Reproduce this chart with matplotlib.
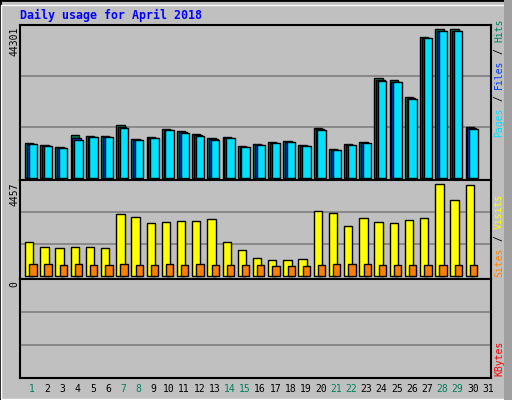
import matplotlib
matplotlib.use("Agg")
import matplotlib.pyplot as plt
from matplotlib.patches import Rectangle

days = list(range(1, 32))
hits = [10050, 9460, 8890, 12360, 12070, 12070, 15260, 11200, 11780, 14100, 13520, 12650, 11490, 11780, 9180,
        9760, 10340, 10630, 9460, 14390, 8310, 9760, 10340, 28870, 28290, 23370, 40740, 43060, 43060, 14680, 0]
files = [9900, 9300, 8750, 11500, 11900, 11900, 14900, 11000, 11600, 13900, 13300, 12450, 11300, 11600, 9000,
         9600, 10150, 10450, 9300, 14100, 8150, 9600, 10150, 28500, 27900, 23100, 40600, 42700, 42700, 14500, 0]
pages = [9800, 9200, 8600, 11000, 11800, 11800, 14600, 10900, 11500, 13800, 13100, 12300, 11100, 11500, 8900,
         9500, 10000, 10300, 9200, 13900, 8000, 9500, 10000, 28200, 27700, 22900, 40600, 42500, 42500, 14300, 0]
visits = [1594, 1365, 1319, 1365, 1365, 1319, 2881, 2743, 2467, 2513, 2559, 2559, 2651, 1594, 1227,
          859, 767, 767, 813, 3019, 2927, 2330, 2697, 2513, 2467, 2605, 2697, 4260, 3524, 4214, 0]
sites = [537, 537, 492, 537, 492, 492, 537, 492, 492, 537, 492, 537, 492, 492, 492,
         492, 445, 445, 445, 492, 537, 537, 537, 492, 492, 492, 492, 492, 492, 492, 0]
weekend = {1, 7, 8, 14, 15, 21, 22, 28, 29}
max_hits = 44301
max_visits = 4457

BG = "#c0c0c0"
W, H = 512, 400
fig = plt.figure(figsize=(W / 100, H / 100), dpi=100, facecolor=BG)
mono = "DejaVu Sans Mono"

def ax_px(x0, y0, x1, y1):
    return fig.add_axes([x0 / W, 1 - y1 / H, (x1 - x0) / W, (y1 - y0) / H])

fig.patches.append(Rectangle((0, 0), 1, 1, transform=fig.transFigure, fill=False,
                             edgecolor="black", lw=2))
fig.patches.append(Rectangle((1 / W, 1 / H), 1 - 6 / W, 1 - 6 / H, transform=fig.transFigure,
                             fill=False, edgecolor="white", lw=1))
fig.patches.append(Rectangle((504 / W, 0), 8 / W, 1, transform=fig.transFigure,
                             facecolor="#a0a0a0", edgecolor="none"))

L, R = 20, 491
ax1 = ax_px(L, 25, R, 180)
ax2 = ax_px(L, 180, R, 279)
ax3 = ax_px(L, 279, R, 378)

for ax in (ax1, ax2, ax3):
    ax.set_facecolor(BG)
    ax.set_xlim(0.5, 31.5)
    ax.set_xticks([])
    ax.set_yticks([])
    for s in ax.spines.values():
        s.set_color("black")
        s.set_linewidth(1.5)

def lws(vals):
    return [1 if v > 0 else 0 for v in vals]

ax1.set_ylim(-2 * max_hits / 153, max_hits)
for g in (max_hits / 3, 2 * max_hits / 3):
    ax1.axhline(g, color="#808080", lw=1.2, zorder=0)
w = 0.55
kw = dict(edgecolor="black", align="edge")
xs = [d - 0.17 for d in days]
ax1.bar(xs, hits, w, color="#00805c", zorder=2, linewidth=lws(hits), **kw)
ax1.bar([x + 0.12 for x in xs], files, w, color="#0040ff", zorder=3, linewidth=lws(files), **kw)
ax1.bar([x + 0.24 for x in xs], pages, w, color="#00e0ff", zorder=4, linewidth=lws(pages), **kw)

ax2.set_ylim(-3 * max_visits / 97, max_visits)
for g in (max_visits / 3, 2 * max_visits / 3):
    ax2.axhline(g, color="#808080", lw=1.2, zorder=0)
ax2.bar(xs, visits, 0.55, color="#ffff00", zorder=2, linewidth=lws(visits), **kw)
ax2.bar([x + 0.28 for x in xs], sites, 0.48, color="#ff8000", zorder=3, linewidth=lws(sites), **kw)

ax3.set_ylim(0, 3)
for g in (1, 2):
    ax3.axhline(g, color="#808080", lw=1.2, zorder=0)

fig.text(20 / W, 1 - 15 / H, "Daily usage for April 2018", color="#0000ff", family=mono,
         weight="bold", fontsize=8.4, va="center", ha="left")

for ypx, lab in ((25, "44301"), (180, "4457"), (279, "0")):
    fig.text(14 / W, 1 - (ypx + 2) / H, lab, rotation=90, family=mono, fontsize=7,
             va="top", ha="center", color="black")

for d in days:
    fig.text((L + (d + 0.3 - 0.5) * (R - L) / 31) / W, 1 - 389 / H, str(d), family=mono,
             fontsize=7, ha="center", va="center",
             color="#00805c" if d in weekend else "black")

CH = 5.95
def vlabel(parts, ybottom):
    y = ybottom
    for txt, col in parts:
        n = len(txt)
        # place by centre so leading/trailing spaces keep their room
        fig.text(499 / W, 1 - (y - CH * n / 2) / H, txt.strip(), rotation=90, family=mono,
                 fontsize=7, color=col, ha="center", va="center")
        y -= CH * n

vlabel([("Pages", "#00e0ff"), (" / ", "black"), ("Files", "#0040ff"), (" / ", "black"),
        ("Hits", "#00805c")], 137)
vlabel([("Sites", "#ff8000"), (" / ", "black"), ("Visits", "#ffff00")], 277)
vlabel([("KBytes", "#ff0000")], 376)

fig.savefig("out.png", dpi=100, facecolor=BG)
